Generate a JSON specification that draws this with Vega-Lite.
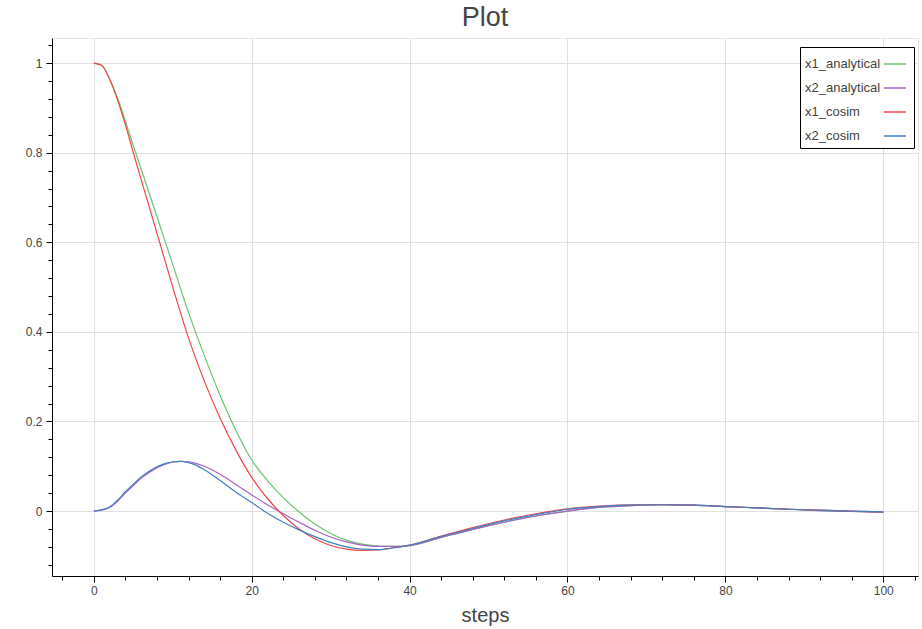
{
"$schema":"https://vega.github.io/schema/vega-lite/v6.json",
"width":866,"height":538,
"autosize":{"type":"none"},
"padding":{"left":52,"top":38,"right":4,"bottom":53},
"background":"white",
"title":{"text":"Plot","fontSize":27,"font":"Liberation Sans","fontWeight":"normal","color":"#444444","anchor":"middle","offset":6,"frame":"group"},
"config":{
 "view":{"stroke":"#e5e5e5"},
 "axis":{"domainColor":"#000000","tickColor":"#000000","labelColor":"#444444","labelFont":"Liberation Sans","labelFontSize":12,"gridColor":"#e0e0e0","gridWidth":1,"titleFont":"Liberation Sans","titleFontSize":20,"titleColor":"#444444","titleFontWeight":"normal"}
},
"data":{"values":[
{"s":"x1_analytical","t":0,"v":1.0},{"s":"x1_analytical","t":1,"v":0.995},{"s":"x1_analytical","t":2,"v":0.964},{"s":"x1_analytical","t":3,"v":0.922},{"s":"x1_analytical","t":4,"v":0.870},{"s":"x1_analytical","t":5,"v":0.816},{"s":"x1_analytical","t":6,"v":0.763},{"s":"x1_analytical","t":8,"v":0.657},{"s":"x1_analytical","t":10,"v":0.550},{"s":"x1_analytical","t":12,"v":0.443},{"s":"x1_analytical","t":14,"v":0.347},{"s":"x1_analytical","t":16,"v":0.258},{"s":"x1_analytical","t":18,"v":0.180},{"s":"x1_analytical","t":20,"v":0.114},{"s":"x1_analytical","t":22,"v":0.068},{"s":"x1_analytical","t":24,"v":0.030},{"s":"x1_analytical","t":26,"v":-0.002},{"s":"x1_analytical","t":28,"v":-0.029},{"s":"x1_analytical","t":30,"v":-0.050},{"s":"x1_analytical","t":32,"v":-0.065},{"s":"x1_analytical","t":34,"v":-0.074},{"s":"x1_analytical","t":36,"v":-0.078},{"s":"x1_analytical","t":38,"v":-0.079},{"s":"x1_analytical","t":40,"v":-0.077},{"s":"x1_analytical","t":44,"v":-0.059},{"s":"x1_analytical","t":48,"v":-0.041},{"s":"x1_analytical","t":52,"v":-0.025},{"s":"x1_analytical","t":56,"v":-0.011},{"s":"x1_analytical","t":60,"v":0.0},{"s":"x1_analytical","t":64,"v":0.008},{"s":"x1_analytical","t":68,"v":0.012},{"s":"x1_analytical","t":72,"v":0.014},{"s":"x1_analytical","t":76,"v":0.013},{"s":"x1_analytical","t":80,"v":0.010},{"s":"x1_analytical","t":84,"v":0.007},{"s":"x1_analytical","t":88,"v":0.004},{"s":"x1_analytical","t":92,"v":0.001},{"s":"x1_analytical","t":96,"v":-0.001},{"s":"x1_analytical","t":100,"v":-0.003},
{"s":"x2_analytical","t":0,"v":0.0},{"s":"x2_analytical","t":1,"v":0.002},{"s":"x2_analytical","t":2,"v":0.008},{"s":"x2_analytical","t":3,"v":0.022},{"s":"x2_analytical","t":4,"v":0.040},{"s":"x2_analytical","t":5,"v":0.057},{"s":"x2_analytical","t":6,"v":0.073},{"s":"x2_analytical","t":7,"v":0.086},{"s":"x2_analytical","t":8,"v":0.097},{"s":"x2_analytical","t":9,"v":0.104},{"s":"x2_analytical","t":10,"v":0.109},{"s":"x2_analytical","t":11,"v":0.111},{"s":"x2_analytical","t":12,"v":0.110},{"s":"x2_analytical","t":13,"v":0.106},{"s":"x2_analytical","t":14,"v":0.100},{"s":"x2_analytical","t":16,"v":0.082},{"s":"x2_analytical","t":18,"v":0.059},{"s":"x2_analytical","t":20,"v":0.036},{"s":"x2_analytical","t":22,"v":0.014},{"s":"x2_analytical","t":24,"v":-0.006},{"s":"x2_analytical","t":26,"v":-0.025},{"s":"x2_analytical","t":28,"v":-0.043},{"s":"x2_analytical","t":30,"v":-0.058},{"s":"x2_analytical","t":32,"v":-0.069},{"s":"x2_analytical","t":34,"v":-0.076},{"s":"x2_analytical","t":36,"v":-0.079},{"s":"x2_analytical","t":38,"v":-0.079},{"s":"x2_analytical","t":40,"v":-0.077},{"s":"x2_analytical","t":44,"v":-0.059},{"s":"x2_analytical","t":48,"v":-0.041},{"s":"x2_analytical","t":52,"v":-0.025},{"s":"x2_analytical","t":56,"v":-0.011},{"s":"x2_analytical","t":60,"v":0.0},{"s":"x2_analytical","t":64,"v":0.008},{"s":"x2_analytical","t":68,"v":0.012},{"s":"x2_analytical","t":72,"v":0.014},{"s":"x2_analytical","t":76,"v":0.013},{"s":"x2_analytical","t":80,"v":0.010},{"s":"x2_analytical","t":84,"v":0.007},{"s":"x2_analytical","t":88,"v":0.004},{"s":"x2_analytical","t":92,"v":0.001},{"s":"x2_analytical","t":96,"v":-0.001},{"s":"x2_analytical","t":100,"v":-0.003},
{"s":"x1_cosim","t":0,"v":1.0},{"s":"x1_cosim","t":1,"v":0.995},{"s":"x1_cosim","t":2,"v":0.964},{"s":"x1_cosim","t":3,"v":0.918},{"s":"x1_cosim","t":4,"v":0.862},{"s":"x1_cosim","t":5,"v":0.800},{"s":"x1_cosim","t":6,"v":0.740},{"s":"x1_cosim","t":8,"v":0.620},{"s":"x1_cosim","t":10,"v":0.500},{"s":"x1_cosim","t":12,"v":0.386},{"s":"x1_cosim","t":14,"v":0.290},{"s":"x1_cosim","t":16,"v":0.207},{"s":"x1_cosim","t":18,"v":0.136},{"s":"x1_cosim","t":20,"v":0.075},{"s":"x1_cosim","t":22,"v":0.028},{"s":"x1_cosim","t":24,"v":-0.010},{"s":"x1_cosim","t":26,"v":-0.040},{"s":"x1_cosim","t":28,"v":-0.062},{"s":"x1_cosim","t":30,"v":-0.077},{"s":"x1_cosim","t":32,"v":-0.085},{"s":"x1_cosim","t":34,"v":-0.088},{"s":"x1_cosim","t":36,"v":-0.087},{"s":"x1_cosim","t":38,"v":-0.082},{"s":"x1_cosim","t":40,"v":-0.076},{"s":"x1_cosim","t":44,"v":-0.056},{"s":"x1_cosim","t":48,"v":-0.037},{"s":"x1_cosim","t":52,"v":-0.020},{"s":"x1_cosim","t":56,"v":-0.006},{"s":"x1_cosim","t":60,"v":0.005},{"s":"x1_cosim","t":64,"v":0.011},{"s":"x1_cosim","t":68,"v":0.014},{"s":"x1_cosim","t":72,"v":0.014},{"s":"x1_cosim","t":76,"v":0.013},{"s":"x1_cosim","t":80,"v":0.010},{"s":"x1_cosim","t":84,"v":0.007},{"s":"x1_cosim","t":88,"v":0.004},{"s":"x1_cosim","t":92,"v":0.002},{"s":"x1_cosim","t":96,"v":0.0},{"s":"x1_cosim","t":100,"v":-0.002},
{"s":"x2_cosim","t":0,"v":0.0},{"s":"x2_cosim","t":1,"v":0.003},{"s":"x2_cosim","t":2,"v":0.009},{"s":"x2_cosim","t":3,"v":0.024},{"s":"x2_cosim","t":4,"v":0.043},{"s":"x2_cosim","t":5,"v":0.060},{"s":"x2_cosim","t":6,"v":0.076},{"s":"x2_cosim","t":7,"v":0.089},{"s":"x2_cosim","t":8,"v":0.099},{"s":"x2_cosim","t":9,"v":0.106},{"s":"x2_cosim","t":10,"v":0.110},{"s":"x2_cosim","t":11,"v":0.111},{"s":"x2_cosim","t":12,"v":0.108},{"s":"x2_cosim","t":13,"v":0.102},{"s":"x2_cosim","t":14,"v":0.092},{"s":"x2_cosim","t":16,"v":0.068},{"s":"x2_cosim","t":18,"v":0.042},{"s":"x2_cosim","t":20,"v":0.019},{"s":"x2_cosim","t":22,"v":-0.005},{"s":"x2_cosim","t":24,"v":-0.025},{"s":"x2_cosim","t":26,"v":-0.042},{"s":"x2_cosim","t":28,"v":-0.057},{"s":"x2_cosim","t":30,"v":-0.070},{"s":"x2_cosim","t":32,"v":-0.080},{"s":"x2_cosim","t":34,"v":-0.085},{"s":"x2_cosim","t":36,"v":-0.086},{"s":"x2_cosim","t":38,"v":-0.082},{"s":"x2_cosim","t":40,"v":-0.076},{"s":"x2_cosim","t":44,"v":-0.057},{"s":"x2_cosim","t":48,"v":-0.039},{"s":"x2_cosim","t":52,"v":-0.022},{"s":"x2_cosim","t":56,"v":-0.008},{"s":"x2_cosim","t":60,"v":0.004},{"s":"x2_cosim","t":64,"v":0.010},{"s":"x2_cosim","t":68,"v":0.013},{"s":"x2_cosim","t":72,"v":0.014},{"s":"x2_cosim","t":76,"v":0.013},{"s":"x2_cosim","t":80,"v":0.010},{"s":"x2_cosim","t":84,"v":0.007},{"s":"x2_cosim","t":88,"v":0.004},{"s":"x2_cosim","t":92,"v":0.002},{"s":"x2_cosim","t":96,"v":0.0},{"s":"x2_cosim","t":100,"v":-0.002}
]},
"layer":[
 {"mark":{"type":"line","strokeWidth":1.2,"interpolate":"monotone"},
  "encoding":{
   "x":{"field":"t","type":"quantitative","scale":{"domain":[-5.3,104.4],"nice":false,"zero":false},
        "axis":{"title":"steps","values":[0,20,40,60,80,100],"format":"d","grid":true,"tickSize":6,"labelPadding":3,"titlePadding":9}},
   "y":{"field":"v","type":"quantitative","scale":{"domain":[-0.145,1.056],"nice":false,"zero":false},
        "axis":{"title":null,"values":[0,0.2,0.4,0.6,0.8,1],"format":"~g","grid":true,"tickSize":6,"labelPadding":4}},
   "color":{"field":"s","type":"nominal","sort":null,
     "scale":{"domain":["x1_analytical","x2_analytical","x1_cosim","x2_cosim"],"range":["#6cc46c","#a862c6","#ee4646","#3f82c4"]},
     "legend":{"orient":"none","legendX":748,"legendY":9,"title":null,"labelFont":"Liberation Sans","labelFontSize":13,"labelColor":"#444444","symbolType":"stroke","symbolSize":484,"symbolStrokeWidth":1.5,"symbolOffset":78,"labelOffset":-102,"labelAlign":"left","strokeColor":"#000000","fillColor":"#ffffff","padding":5,"rowPadding":5,"cornerRadius":0,"labelLimit":200}}
  }},
 {"mark":{"type":"line","opacity":0},
  "encoding":{
   "x":{"field":"t","type":"quantitative","axis":{"orient":"bottom","title":null,"values":[-4,4,8,12,16,24,28,32,36,44,48,52,56,64,68,72,76,84,88,92,96,104],"labels":false,"grid":false,"domain":false,"tickSize":4}},
   "y":{"field":"v","type":"quantitative","axis":{"orient":"left","title":null,"values":[-0.12,-0.08,-0.04,0.04,0.08,0.12,0.16,0.24,0.28,0.32,0.36,0.44,0.48,0.52,0.56,0.64,0.68,0.72,0.76,0.84,0.88,0.92,0.96,1.04],"labels":false,"grid":false,"domain":false,"tickSize":4}},
   "detail":{"field":"s"}
  }}
],
"resolve":{"axis":{"x":"independent","y":"independent"}}
}
